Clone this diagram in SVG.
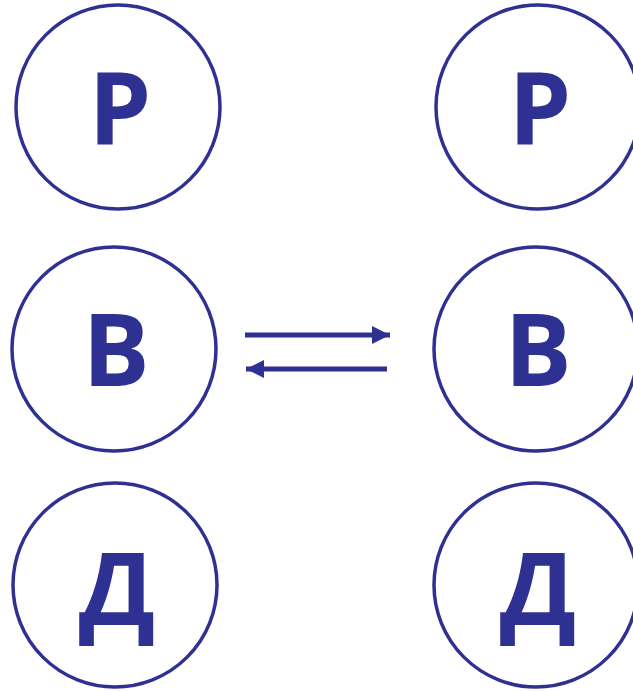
<svg xmlns="http://www.w3.org/2000/svg" width="633" height="691" viewBox="0 0 633 691">
<style>
.c{fill:#fff;stroke:#2e3192;stroke-width:3.5}
.t{font-family:"Open Sans","DejaVu Sans",sans-serif;font-weight:bold;font-size:100px;fill:#2e3192;text-anchor:middle}
.a{stroke:#2e3192;stroke-width:5;fill:none}
</style>
<defs>
<marker id="ah" markerUnits="userSpaceOnUse" markerWidth="20" markerHeight="20" viewBox="0 0 20 20" refX="18" refY="10" orient="auto">
<path d="M0,1 L18,10 L0,19 Z" fill="#2e3192"/>
</marker>
</defs>
<rect width="633" height="691" fill="#fff"/>
<g id="left-r"><circle class="c" cx="118" cy="107" r="102"/><text class="t" x="120" y="145">Р</text></g>
<g id="left-v"><circle class="c" cx="114" cy="349" r="102"/><text class="t" x="116" y="386">В</text></g>
<g id="left-d"><circle class="c" cx="115" cy="585" r="102"/><text class="t" x="117" y="625">Д</text></g>
<g id="right-r"><circle class="c" cx="538" cy="107" r="102"/><text class="t" x="540" y="145">Р</text></g>
<g id="right-v"><circle class="c" cx="536" cy="349" r="102"/><text class="t" x="538" y="386">В</text></g>
<g id="right-d"><circle class="c" cx="536" cy="585" r="102"/><text class="t" x="538" y="625">Д</text></g>
<g id="connectors">
<line class="a" x1="245" y1="335" x2="390" y2="335" marker-end="url(#ah)"/>
<line class="a" x1="387" y1="369" x2="246" y2="369" marker-end="url(#ah)"/>
</g>
</svg>
